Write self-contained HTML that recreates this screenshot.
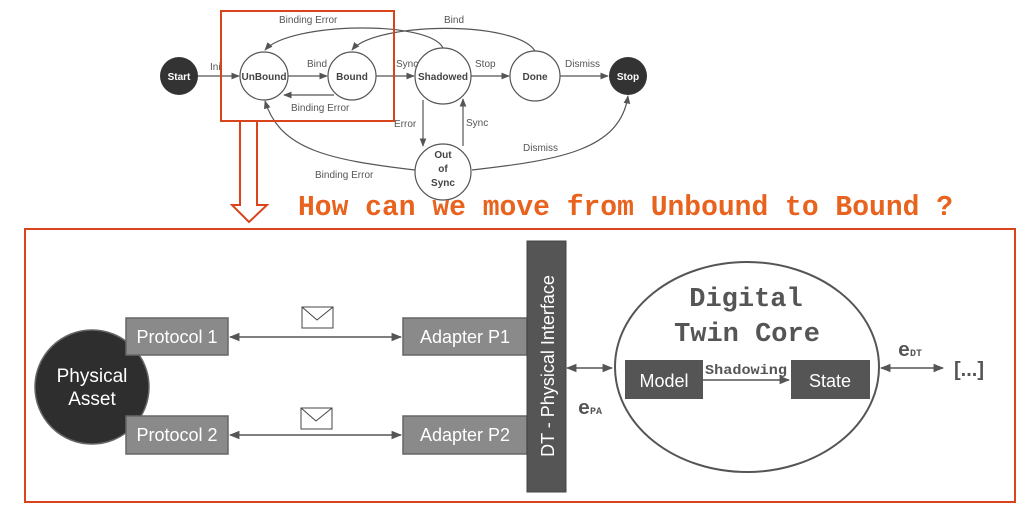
<!DOCTYPE html>
<html><head><meta charset="utf-8"><style>
html,body{margin:0;padding:0;background:#fff;}
svg{display:block;font-family:"Liberation Sans",sans-serif;}
</style></head><body>
<svg width="1024" height="508" viewBox="0 0 1024 508" xmlns="http://www.w3.org/2000/svg">
<defs>
<marker id="a" viewBox="0 0 10 10" refX="9" refY="5" markerWidth="7" markerHeight="7" orient="auto-start-reverse"><path d="M0,1 L10,5 L0,9 z" fill="#555"/></marker>
</defs>
<g stroke="#555" stroke-width="1.2" fill="none">
<line x1="198" y1="76" x2="239" y2="76" marker-end="url(#a)"/>
<line x1="288" y1="76" x2="327" y2="76" marker-end="url(#a)"/>
<line x1="334" y1="95" x2="284" y2="95" marker-end="url(#a)"/>
<line x1="376" y1="76" x2="414" y2="76" marker-end="url(#a)"/>
<line x1="471" y1="76" x2="509" y2="76" marker-end="url(#a)"/>
<line x1="560" y1="76" x2="608" y2="76" marker-end="url(#a)"/>
<path d="M443,48 C430,20 290,22 265,50" marker-end="url(#a)"/>
<path d="M535,51 C515,20 375,22 352,50" marker-end="url(#a)"/>
<line x1="423" y1="100" x2="423" y2="146" marker-end="url(#a)"/>
<line x1="463" y1="146" x2="463" y2="99" marker-end="url(#a)"/>
<path d="M415,170 C330,160 280,150 265,101" marker-end="url(#a)"/>
<path d="M472,170 C560,160 620,150 628,96" marker-end="url(#a)"/>
</g>
<circle cx="179" cy="76" r="19" fill="#333"/>
<circle cx="628" cy="76" r="19" fill="#333"/>
<g fill="#fff" stroke="#555" stroke-width="1.2">
<circle cx="264" cy="76" r="24"/>
<circle cx="352" cy="76" r="24"/>
<circle cx="443" cy="76" r="28"/>
<circle cx="535" cy="76" r="25"/>
<circle cx="443" cy="172" r="28"/>
</g>
<g font-size="10" font-weight="bold" text-anchor="middle">
<text x="179" y="80" fill="#fff">Start</text>
<text x="628" y="80" fill="#fff">Stop</text>
<g fill="#444">
<text x="264" y="80">UnBound</text>
<text x="352" y="80">Bound</text>
<text x="443" y="80">Shadowed</text>
<text x="535" y="80">Done</text>
<text x="443" y="158">Out</text>
<text x="443" y="172">of</text>
<text x="443" y="186">Sync</text>
</g></g>
<g font-size="10" fill="#555">
<text x="210" y="70">Ini</text>
<text x="307" y="67">Bind</text>
<text x="291" y="111">Binding Error</text>
<text x="279" y="23">Binding Error</text>
<text x="444" y="23">Bind</text>
<text x="396" y="67">Sync</text>
<text x="475" y="67">Stop</text>
<text x="565" y="67">Dismiss</text>
<text x="394" y="127">Error</text>
<text x="466" y="126">Sync</text>
<text x="523" y="151">Dismiss</text>
<text x="315" y="178">Binding Error</text>
</g>
<rect x="221" y="11" width="173" height="110" fill="none" stroke="#d9441d" stroke-width="2"/>
<path d="M240,121 L257,121 L257,205 L267,205 L249,222 L232,205 L240,205 Z" fill="#fff" stroke="#d9441d" stroke-width="2"/>
<text x="298" y="215" font-family="Liberation Mono,monospace" font-weight="bold" font-size="29" fill="#e8631e" textLength="655" lengthAdjust="spacingAndGlyphs">How can we move from Unbound to Bound ?</text>
<rect x="25" y="229" width="990" height="273" fill="none" stroke="#d9441d" stroke-width="2"/>
<g stroke="#555" stroke-width="1.5">
<line x1="230" y1="337" x2="401" y2="337" marker-start="url(#a)" marker-end="url(#a)"/>
<line x1="230" y1="435" x2="401" y2="435" marker-start="url(#a)" marker-end="url(#a)"/>
<line x1="567" y1="368" x2="612" y2="368" marker-start="url(#a)" marker-end="url(#a)"/>
<line x1="881" y1="368" x2="943" y2="368" marker-start="url(#a)" marker-end="url(#a)"/>
</g>
<circle cx="92" cy="387" r="57" fill="#2e2e2e" stroke="#666" stroke-width="1.5"/>
<text x="92" y="382" fill="#fff" font-size="19" text-anchor="middle">Physical</text>
<text x="92" y="405" fill="#fff" font-size="19" text-anchor="middle">Asset</text>
<g fill="#8a8a8a" stroke="#666" stroke-width="1.5">
<rect x="126" y="318" width="102" height="37"/>
<rect x="126" y="416" width="102" height="38"/>
<rect x="403" y="318" width="124" height="37"/>
<rect x="403" y="416" width="124" height="38"/>
</g>
<g fill="#fff" font-size="18" text-anchor="middle">
<text x="177" y="343">Protocol 1</text>
<text x="177" y="441">Protocol 2</text>
<text x="465" y="343">Adapter P1</text>
<text x="465" y="441">Adapter P2</text>
</g>
<g fill="#fff" stroke="#444" stroke-width="1">
<rect x="302" y="307" width="31" height="21"/><path d="M302,307 L317,320 L333,307" fill="none"/>
<rect x="301" y="408" width="31" height="21"/><path d="M301,408 L316,421 L332,408" fill="none"/>
</g>
<rect x="527" y="241" width="39" height="251" fill="#555" stroke="#444"/>
<text transform="translate(554,366) rotate(-90)" fill="#fff" font-size="18" text-anchor="middle">DT - Physical Interface</text>
<ellipse cx="747" cy="367" rx="132" ry="105" fill="#fff" stroke="#555" stroke-width="2"/>
<g font-family="Liberation Mono,monospace" font-weight="bold" font-size="27" fill="#555" text-anchor="middle">
<text x="746" y="306">Digital</text>
<text x="747" y="341">Twin Core</text>
</g>
<rect x="625" y="360" width="78" height="39" fill="#555"/>
<rect x="791" y="360" width="79" height="39" fill="#555"/>
<text x="664" y="387" fill="#fff" font-size="18" text-anchor="middle">Model</text>
<text x="830" y="387" fill="#fff" font-size="18" text-anchor="middle">State</text>
<line x1="703" y1="380" x2="789" y2="380" stroke="#555" stroke-width="1.5" marker-end="url(#a)"/>
<text x="705" y="374" font-family="Liberation Mono,monospace" font-weight="bold" font-size="14" fill="#555" textLength="82" lengthAdjust="spacingAndGlyphs">Shadowing</text>
<text x="578" y="414" font-family="Liberation Mono,monospace" font-weight="bold" font-size="20" fill="#555">e<tspan font-size="10">PA</tspan></text>
<text x="898" y="356" font-family="Liberation Mono,monospace" font-weight="bold" font-size="20" fill="#555">e<tspan font-size="10">DT</tspan></text>
<text x="954" y="376" font-size="20" font-weight="bold" fill="#555">[...]</text>
</svg>
</body></html>
